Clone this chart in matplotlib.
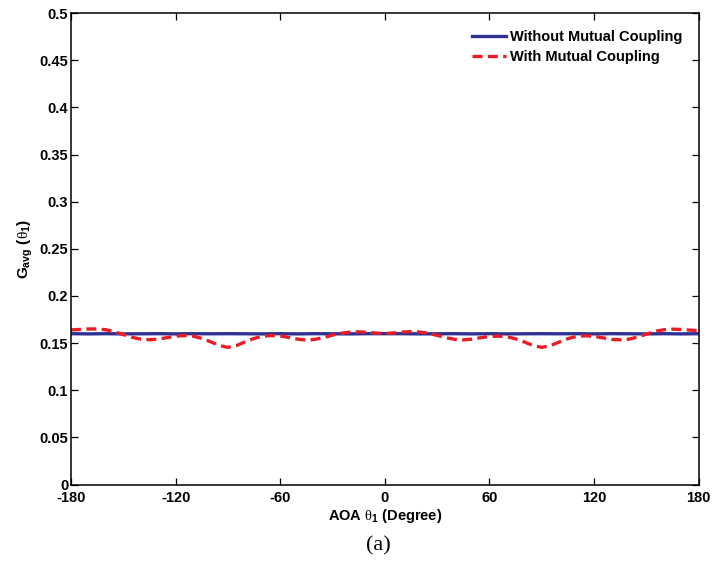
import numpy as np
import matplotlib
matplotlib.use("Agg")
import matplotlib.pyplot as plt

plt.rcParams['font.family'] = ['Liberation Sans', 'DejaVu Sans']
plt.rcParams['mathtext.fontset'] = 'custom'
plt.rcParams['mathtext.rm'] = 'Liberation Sans:bold'
plt.rcParams['mathtext.it'] = 'Liberation Serif'
plt.rcParams['mathtext.bf'] = 'Liberation Sans:bold'

# AOA angles (degree)
aoa_coarse = [-180, -170, -160, -150, -140, -130, -120, -110, -100, -90,
              -80, -70, -60, -50, -40, -30, -20, -10, 0,
              10, 20, 30, 40, 50, 60, 70, 80, 90,
              100, 110, 120, 130, 140, 150, 160, 170, 180]
aoa_fine = [-180, -175, -170, -165, -160, -155, -150, -145, -140, -135,
            -130, -125, -120, -115, -110, -105, -100, -95, -90, -85,
            -80, -75, -70, -65, -60, -55, -50, -45, -40, -35,
            -30, -25, -20, -15, -10, -5, 0, 5, 10, 15,
            20, 25, 30, 35, 40, 45, 50, 55, 60, 65,
            70, 75, 80, 85, 90, 95, 100, 105, 110, 115,
            120, 125, 130, 135, 140, 145, 150, 155, 160, 165,
            170, 175, 180]

# without mutual coupling - almost flat
g_without = [0.1600, 0.1598, 0.1600, 0.1598, 0.1599, 0.1600, 0.1598, 0.1600, 0.1599, 0.1600,
             0.1599, 0.1598, 0.1600, 0.1598, 0.1600, 0.1599, 0.1598, 0.1600, 0.1600,
             0.1600, 0.1598, 0.1599, 0.1600, 0.1598, 0.1600, 0.1598, 0.1599, 0.1600,
             0.1599, 0.1600, 0.1598, 0.1600, 0.1599, 0.1598, 0.1600, 0.1598, 0.1600]

# with mutual coupling - ripples
g_with = [0.1640, 0.1645, 0.1650, 0.1650, 0.1642, 0.1620, 0.1590, 0.1562, 0.1542, 0.1536,
          0.1542, 0.1558, 0.1574, 0.1580, 0.1574, 0.1550, 0.1515, 0.1475, 0.1455, 0.1475,
          0.1515, 0.1550, 0.1574, 0.1580, 0.1576, 0.1560, 0.1542, 0.1532, 0.1540, 0.1560,
          0.1585, 0.1605, 0.1617, 0.1620, 0.1615, 0.1606, 0.1602, 0.1608, 0.1617, 0.1622,
          0.1618, 0.1604, 0.1582, 0.1558, 0.1540, 0.1535, 0.1542, 0.1558, 0.1570, 0.1574,
          0.1568, 0.1545, 0.1512, 0.1474, 0.1455, 0.1474, 0.1512, 0.1548, 0.1572, 0.1578,
          0.1572, 0.1556, 0.1540, 0.1535, 0.1542, 0.1565, 0.1595, 0.1625, 0.1642, 0.1648,
          0.1645, 0.1638, 0.1632]

xticks = [-180, -120, -60, 0, 60, 120, 180]
yticks = [0, 0.05, 0.1, 0.15, 0.2, 0.25, 0.3, 0.35, 0.4, 0.45, 0.5]
ytick_labels = ['0', '0.05', '0.1', '0.15', '0.2', '0.25', '0.3', '0.35', '0.4', '0.45', '0.5']

fig = plt.figure(figsize=(7.13, 5.81), dpi=100)
ax = fig.add_axes([0.0996, 0.166, 0.8804, 0.8114])

ax.plot(aoa_coarse, g_without, color='#2e3192', lw=2.4, label='Without Mutual Coupling')
ax.plot(aoa_fine, g_with, color='#ed1c24', lw=2.4, ls=(0, (3, 1.6)), label='With Mutual Coupling')

ax.set_xlim(-180, 180)
ax.set_ylim(0, 0.5)
ax.set_xticks(xticks)
ax.set_xticklabels([str(t) for t in xticks])
ax.set_yticks(yticks)
ax.set_yticklabels(ytick_labels)
ax.tick_params(direction='in', length=5, width=0.9, top=True, right=True,
               labelsize=10.5)
ax.tick_params(axis='x', pad=5)
ax.tick_params(axis='y', pad=2)
for lab in ax.get_xticklabels() + ax.get_yticklabels():
    lab.set_fontweight('bold')
for sp in ax.spines.values():
    sp.set_linewidth(1.1)

ax.set_xlabel(r'AOA $\mathit{\theta}_{1}$ (Degree)', fontsize=10.5, fontweight='bold', labelpad=1)
ax.set_ylabel(r'G$_{\mathrm{avg}}$ ($\mathit{\theta}_{1}$)', fontsize=11, fontweight='bold', labelpad=3)

leg = ax.legend(loc='upper right', frameon=False, handlelength=2.3,
                handletextpad=0.25, labelspacing=0.45, borderaxespad=0.75,
                prop={'weight': 'bold', 'size': 10.5})

fig.text(0.53, 0.06, '(a)', fontsize=16, family='Liberation Serif', ha='center', va='center')

fig.savefig('out.png', dpi=100)
